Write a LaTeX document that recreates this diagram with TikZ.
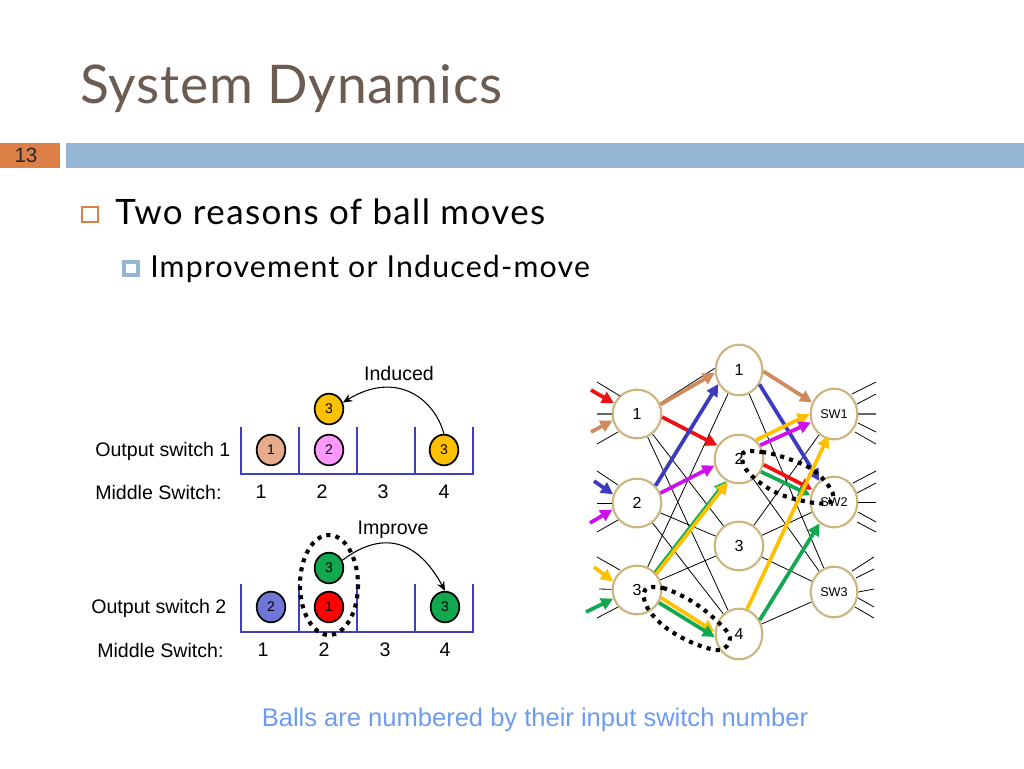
\documentclass[tikz,border=0pt]{standalone}
\usepackage{fontspec}
\setmainfont{Liberation Sans}
\newfontfamily\headfont[LetterSpace=4]{Lato}
\newfontfamily\titlefont[LetterSpace=1.5]{Lato}
\usetikzlibrary{shapes.geometric,arrows.meta,backgrounds}
\definecolor{headbrown}{HTML}{6B5B50}
\definecolor{barblue}{HTML}{94B6D2}
\definecolor{barorange}{HTML}{DD8047}
\definecolor{binblue}{HTML}{3F3FBF}
\definecolor{netgold}{HTML}{CDB57F}
\definecolor{ctan}{HTML}{D08A5C}
\definecolor{cred}{HTML}{EE1111}
\definecolor{cblue}{HTML}{3B3BC0}
\definecolor{cpurple}{HTML}{CC11EE}
\definecolor{cyellow}{HTML}{FFC000}
\definecolor{cgreen}{HTML}{12A850}
\definecolor{balltan}{HTML}{E8AC8C}
\definecolor{ballpink}{HTML}{FF99FF}
\definecolor{ballblue}{HTML}{7075D8}
\definecolor{noteblue}{HTML}{6C9CF0}
\tikzset{
  x=0.75pt,y=-0.75pt,
  netnode/.style={draw=netgold,line width=1.6pt,fill=white,ellipse,inner sep=0pt,minimum width=36.5pt,minimum height=36.5pt,font=\fontsize{12}{14}\selectfont},
  tallnode/.style={netnode,minimum width=35pt,minimum height=38pt},
  swnode/.style={tallnode,font=\fontsize{9.5}{11}\selectfont},
  ball/.style={draw=black,line width=1.3pt,ellipse,inner sep=0pt,minimum width=21.5pt,minimum height=23pt,font=\fontsize{10.5}{12}\selectfont},
  bin/.style={draw=binblue,line width=1.3pt},
  wire/.style={draw=black,line width=0.6pt},
  stub/.style={draw=black,line width=0.6pt},
  thru/.style={draw=black!60,line width=1pt},
  flow/.style={line width=2.8pt,-{Triangle[length=9pt,width=9pt]}},
  curved/.style={draw=black,line width=0.8pt,-{Stealth[length=7pt,width=6pt]}},
  dotline/.style={draw=black,line width=3.1pt,dash pattern=on 3.1pt off 3.9pt},
  label/.style={font=\fontsize{14.7}{17}\selectfont,inner sep=0pt},
}
\begin{document}
\begin{tikzpicture}
\useasboundingbox (0,0) rectangle (1024,768);
% header
\node[anchor=base west,inner sep=0pt,text=headbrown,font=\titlefont\fontsize{40}{44}\selectfont] (title) at (80,103) {System Dynamics};
\fill[barorange] (0,143) rectangle (60,168);
\fill[barblue] (66,143) rectangle (1024,168);
\node[inner sep=0pt,font=\fontsize{15.5}{17}\selectfont,text=black!85] (pageno) at (26,155) {13};
\draw[draw=barorange,line width=0.9pt] (82,207) rectangle (98,222);
\draw[draw=barblue,line width=3pt] (124,262) rectangle (138,275);
\node[anchor=base west,inner sep=0pt,font=\headfont\fontsize{26.2}{30}\selectfont] (b1) at (115,224) {Two reasons of ball moves};
\node[anchor=base west,inner sep=0pt,font=\headfont\fontsize{22.7}{26}\selectfont] (b2) at (150,277) {Improvement or Induced-move};
% bins 1
\draw[bin] (241,427) -- (241,474) -- (473,474) -- (473,427);
\draw[bin] (299,427) -- (299,474);
\draw[bin] (357,427) -- (357,474);
\draw[bin] (415,427) -- (415,474);
\node[ball,fill=balltan] (a1) at (271,450) {1};
\node[ball,fill=ballpink] (a2) at (329,450) {2};
\node[ball,fill=cyellow] (a3) at (329,409) {3};
\node[ball,fill=cyellow] (a4) at (444,450) {3};
\draw[curved] (a4.north) .. controls (434,398) and (396,370) .. (a3.25);
\node[label] (ind) at (399,373) {Induced};
\node[label,anchor=west] (os1) at (95,451) {Output switch 1};
\node[label,anchor=west] (ms1) at (95,492) {Middle Switch:};
\node[label] at (261,492) {1};
\node[label] at (322,492) {2};
\node[label] at (383,492) {3};
\node[label] at (444,492) {4};
% bins 2
\draw[bin] (241,584) -- (241,632) -- (473,632) -- (473,584);
\draw[bin] (299,584) -- (299,632);
\draw[bin] (357,584) -- (357,632);
\draw[bin] (415,584) -- (415,632);
\node[ball,fill=ballblue] (c1) at (271,607) {2};
\node[ball,fill=red] (c2) at (329,607) {1};
\node[ball,fill=cgreen] (c3) at (329,568) {3};
\node[ball,fill=cgreen] (c4) at (445,607) {3};
\draw[curved] (c3.30) .. controls (378,533) and (415,535) .. (c4.north);
\draw[dotline] (329,585) ellipse [x radius=29,y radius=50];
\node[label] (imp) at (393,530) {Improve};
\node[label,anchor=west] (os2) at (91,608) {Output switch 2};
\node[label,anchor=west] (ms2) at (97,650) {Middle Switch:};
\node[label] at (263,650) {1};
\node[label] at (324,650) {2};
\node[label] at (385,650) {3};
\node[label] at (445,650) {4};
% network
\node[netnode] (I1) at (637,414) {1};
\node[netnode] (I2) at (637,503) {2};
\node[netnode] (I3) at (637,590) {3};
\node[tallnode] (M1) at (739,370) {1};
\node[netnode] (M2) at (739,459) {2};
\node[netnode] (M3) at (739,546) {3};
\node[tallnode] (M4) at (739,634) {4};
\node[swnode] (S1) at (834,414) {SW1};
\node[swnode] (S2) at (834,502) {SW2};
\node[swnode] (S3) at (834,592) {SW3};
\begin{scope}[on background layer]
\draw[wire] (I1.25) -- (M1.176);
\foreach \a/\b in {I1/M3,I1/M4,I2/M3,I2/M4,I3/M1,I3/M3,
  M1/S3,M2/S3,M3/S1,M3/S2,M3/S3,M4/S3}
  \draw[wire] (\a) -- (\b);
\end{scope}
% stubs
\foreach \ya/\xe/\ye in {382/620/396,444/618/432,471/618/485,532/618/520,557/620/570,618/618/607}
  \draw[stub] (597,\ya) -- (\xe,\ye);
\draw[thru] (597,414) -- (I1);
\draw[stub] (597,503) -- (I2);
\draw[stub] (599,589) -- (I3);
\foreach \xa/\ya/\xe/\ye in {852/394/876/382,857/404/876/394,855/432/876/444,858/423/876/432,
  853/483/876/471,857/493/876/483,858/512/876/522,857/522/876/532,
  852/571/874/557,856/578/874/569,858/598/874/607,855/607/874/618}
  \draw[stub] (\xa,\ya) -- (\xe,\ye);
\draw[thru] (S1.east) -- (876,414);
\draw[stub] (S2.east) -- (876,502);
\draw[stub] (S3.east) -- (874,589);
% incoming coloured
\coordinate (r0) at (591,390); \coordinate (t0) at (591,432);
\coordinate (b0) at (594,481); \coordinate (p0) at (590,523);
\coordinate (y0) at (594,567); \coordinate (g0) at (586,612);
\draw[flow,cred] (r0) -- (I1.155);
\draw[flow,ctan] (t0) -- (I1.195);
\draw[flow,cblue] (b0) -- (I2.160);
\draw[flow,cpurple] (p0) -- (I2.195);
\draw[flow,cyellow] (y0) -- (I3.160);
\draw[flow,cgreen] (g0) -- (I3.200);
% flows
\draw[flow,ctan] (I1.22) -- (M1.187);
\draw[flow,cred] (I1.-7) -- (M2.148);
\draw[flow,cblue] (I2.43) -- (M1.214);
\draw[flow,cpurple] (I2.23) -- (M2.195);
\draw[flow,cgreen] (I3.44) -- (M2.240);
\draw[flow,cyellow] (I3.40) -- (M2.244);
\draw[flow,ctan] (M1.-3) -- (S1.152);
\draw[flow,cblue] (M1.-35) -- (S2.125);
\draw[flow,cyellow] (M2.48) -- (S1.180);
\draw[flow,cpurple] (M2.33) -- (S1.200);
\draw[flow,cred] (M2.-13) -- (S2.150);
\draw[flow,cgreen] (M2.-30) -- (S2.164);
\draw[flow,cyellow,shorten >=-3pt] (M4.72) -- (S1.254);
\draw[flow,cgreen] (M4.34) -- (S2.236);
\draw[flow,cyellow] (I3.-18) -- (M4.175);
\draw[flow,cgreen] (I3.-30) -- (M4.187);
% dotted groups
\draw[dotline] plot[smooth cycle,tension=0.6] coordinates {(743,453)(762,452)(783,457)(810,468)(828,485)(833,500)(815,503)(777,493)(748,472)};
\draw[dotline] plot[smooth cycle,tension=0.6] coordinates {(645,590)(663,588)(693,602)(718,622)(730,638)(720,650)(693,643)(665,627)(647,607)};
% note
\node[inner sep=0pt,text=noteblue,font=\fontsize{19.15}{22}\selectfont] (note) at (535,720) {Balls are numbered by their input switch number};
\end{tikzpicture}
\end{document}
